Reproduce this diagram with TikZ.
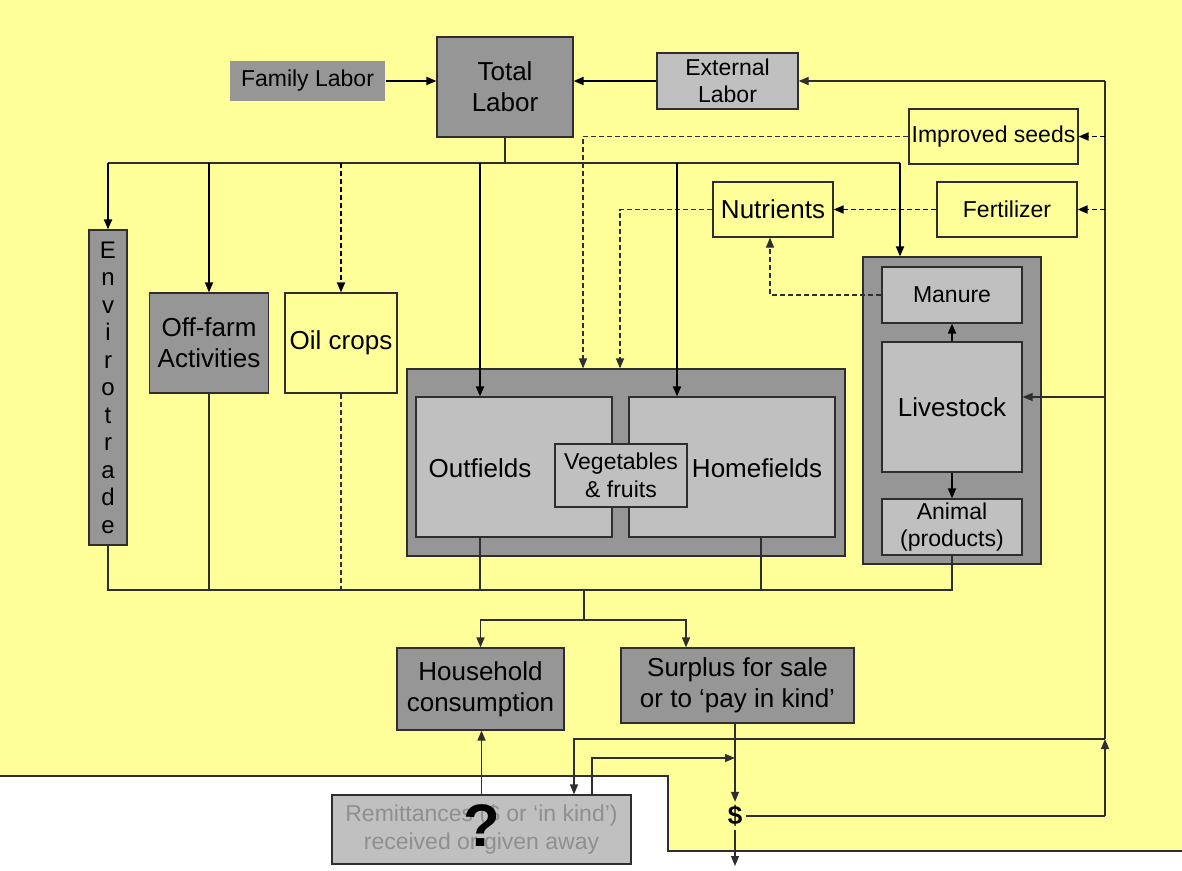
\documentclass[tikz,border=0pt]{standalone}
\usepackage{fontspec}
\setmainfont{Liberation Sans}
\usetikzlibrary{arrows.meta}
\definecolor{bgyellow}{HTML}{FFFF99}
\definecolor{boxdark}{HTML}{969696}
\definecolor{boxlight}{HTML}{C0C0C0}
\definecolor{edge}{HTML}{2E2E2E}
\definecolor{fadedtext}{HTML}{8F8F8F}
\tikzset{
  boxbase/.style={draw=edge, line width=1.2pt, align=center, inner sep=0pt},
  darkbox/.style={boxbase, fill=boxdark},
  lightbox/.style={boxbase, fill=boxlight},
  plainbox/.style={boxbase},
  bigtext/.style={font=\fontsize{26}{31}\selectfont},
  smalltext/.style={font=\fontsize{23}{27.5}\selectfont},
  headed/.style={-{Triangle[length=10pt,width=8pt]}},
  wire/.style={draw=edge, line width=1.2pt},
  arr/.style={draw=black, line width=1.8pt, headed},
  dline/.style={wire, dash pattern=on 5pt off 3pt},
  darr/.style={arr, dash pattern=on 5pt off 3pt},
}
\begin{document}
\begin{tikzpicture}[x=1pt,y=-1pt]
			\useasboundingbox (0,0) rectangle (1182,870);
			\fill[white] (0,0) rectangle (1182,870);
			\fill[bgyellow] (0,0) -- (1182,0) -- (1182,851) -- (668,851) -- (668,776) -- (0,776) -- cycle;
			\draw[wire, line width=1.5pt] (0,776) -- (668,776) -- (668,851) -- (1182,851);

			\node[darkbox, draw=none, smalltext, minimum width=155pt, minimum height=40pt] (famlab) at (307.5,81) {Family Labor};
			\node[darkbox, bigtext, minimum width=136pt, minimum height=100pt] (totlab) at (505,87) {Total\\Labor};
			\node[lightbox, smalltext, minimum width=141pt, minimum height=56pt] (extlab) at (727.5,81) {External\\Labor};
			\node[plainbox, smalltext, minimum width=169pt, minimum height=55pt] (seeds) at (993.5,136.5) {Improved seeds};
			\node[plainbox, smalltext, minimum width=140pt, minimum height=55pt] (fert) at (1007,209.5) {Fertilizer};
			\node[plainbox, bigtext, minimum width=120pt, minimum height=55pt] (nutr) at (773,209.5) {Nutrients};

			\node[darkbox, font=\fontsize{24}{27.5}\selectfont, minimum width=38pt, minimum height=315pt] (envi) at (108,387.5) {E\\n\\v\\i\\r\\o\\t\\r\\a\\d\\e};
			\node[darkbox, bigtext, minimum width=119pt, minimum height=100pt] (offfarm) at (209,343) {Off-farm\\Activities};
			\node[plainbox, bigtext, minimum width=112pt, minimum height=100pt] (oil) at (341,343) {Oil crops};

			\node[darkbox, minimum width=438pt, minimum height=187pt] (fields) at (626,462.5) {};
			\node[lightbox, minimum width=196pt, minimum height=140pt] (outf) at (514,467) {};
			\node[lightbox, minimum width=206pt, minimum height=140pt] (homef) at (732,467) {};
			\node[bigtext] (outftxt) at (480,468) {Outfields};
			\node[bigtext] (homeftxt) at (757,468) {Homefields};
			\node[lightbox, smalltext, minimum width=132pt, minimum height=63pt] (veg) at (621,475.5) {Vegetables\\\& fruits};

			\node[darkbox, minimum width=178pt, minimum height=307pt] (lvout) at (952,410.5) {};
			\node[lightbox, smalltext, minimum width=140pt, minimum height=56pt] (manure) at (952,295) {Manure};
			\node[lightbox, bigtext, minimum width=140pt, minimum height=130pt] (livest) at (952,407) {Livestock};
			\node[lightbox, smalltext, minimum width=140pt, minimum height=56pt] (animal) at (952,527) {Animal\\(products)};

			\node[darkbox, bigtext, minimum width=167pt, minimum height=82pt] (house) at (480.5,689) {Household\\consumption};
			\node[darkbox, bigtext, minimum width=233pt, minimum height=75pt] (surplus) at (737.5,685.5) {Surplus for sale\\or to ‘pay in kind’};
			\node[lightbox, smalltext, text=fadedtext, minimum width=299pt, minimum height=69pt] (remit) at (481.5,829.5) {Remittances (\$ or ‘in kind’)\\received or given away};
			\node[font=\fontsize{26}{30}\selectfont\bfseries] (dollar) at (735,816) {\$};
			\node[font=\fontsize{60}{62}\selectfont\bfseries] (quest) at (482,826) {?};

			\coordinate (spinetop) at (1105,81);
			\coordinate (spineup) at (1105,739);
			\coordinate (spinebot) at (1105,816);
			\coordinate (lvin) at (1105,397);
			\coordinate (topbus) at (0,163);
			\coordinate (botbus) at (0,590);
			\coordinate (homein) at (677,163);
			\coordinate (lvdrop) at (900,163);
			\coordinate (seedcol) at (583,0);
			\coordinate (nutcol) at (620,0);
			\coordinate (mancol) at (770,0);
			\coordinate (homeout) at (761,0);
			\coordinate (split) at (584,620);
			\coordinate (surin) at (686,620);
			\coordinate (remitin) at (574,739);
			\coordinate (remitout) at (592,758);
			\coordinate (sold) at (735,866);

			\draw[arr] (famlab.east) -- (famlab.east -| totlab.west);
			\draw[arr] (extlab.west) -- (extlab.west -| totlab.east);
			\draw[wire] (dollar.east |- spinebot) -- (spinebot);
			\draw[wire, headed] (spinebot) -- (spineup);
			\draw[wire] (spineup) -- (spinetop);
			\draw[wire, headed] (spinetop) -- (extlab.east);
			\draw[darr] (seeds.east -| spinetop) -- (seeds.east);
			\draw[darr] (fert.east -| spinetop) -- (fert.east);
			\draw[wire, headed] (lvin) -- (lvin -| livest.east);

			\draw[dline, headed] (seeds.west) -- (seeds.west -| seedcol) -- (seedcol |- fields.north);
			\draw[darr] (fert.west) -- (nutr.east);
			\draw[dline, headed] (nutr.west) -- (nutr.west -| nutcol) -- (nutcol |- fields.north);
			\draw[dline, headed] (manure.west) -- (manure.west -| mancol) -- (mancol |- nutr.south);

			\draw[wire] (totlab.south) -- (totlab.south |- topbus);
			\draw[wire] (envi.north |- topbus) -- (lvdrop);
			\draw[arr] (envi.north |- topbus) -- (envi.north);
			\draw[arr] (offfarm.north |- topbus) -- (offfarm.north);
			\draw[darr] (oil.north |- topbus) -- (oil.north);
			\draw[arr] (outftxt |- topbus) -- (outftxt |- outf.north);
			\draw[arr] (homein) -- (homein |- homef.north);
			\draw[arr] (lvdrop) -- (lvdrop |- lvout.north);
			\draw[arr] (livest.north) -- (manure.south);
			\draw[arr] (livest.south) -- (animal.north);

			\draw[wire] (envi.south) -- (envi.south |- botbus) -- (animal.south |- botbus) -- (animal.south);
			\draw[wire] (offfarm.south) -- (offfarm.south |- botbus);
			\draw[dline] (oil.south) -- (oil.south |- botbus);
			\draw[wire] (outftxt |- outf.south) -- (outftxt |- botbus);
			\draw[wire] (homeout |- homef.south) -- (homeout |- botbus);
			\draw[wire] (split |- botbus) -- (split);
			\draw[wire, headed, line width=1.5pt] (split) -| (house.north);
			\draw[wire, headed, line width=1.5pt] (split) -- (surin) -- (surin |- surplus.north);

			\draw[wire, headed, line width=1.5pt] (remit.north) -- (remit.north |- house.south);
			\draw[wire, headed] (spineup) -- (remitin) -- (remitin |- remit.north);
			\draw[wire, headed] (remitout |- remit.north) -- (remitout) -- (remitout -| dollar);
			\draw[wire, headed] (dollar |- surplus.south) -- (dollar.north);
			\draw[wire, headed] (dollar.south) -- (sold);
		\end{tikzpicture}
\end{document}
